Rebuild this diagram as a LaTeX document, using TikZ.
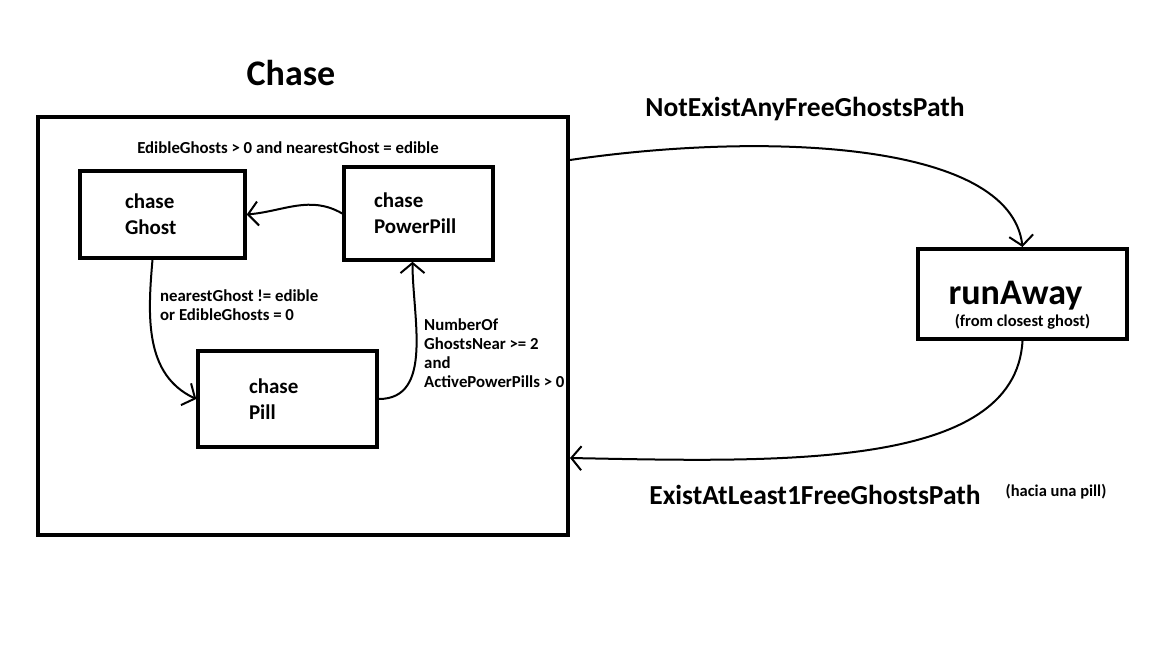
\documentclass[tikz,border=0pt]{standalone}
\usepackage{fontspec}
\setmainfont{Carlito}
\usetikzlibrary{arrows.meta, positioning}

\begin{document}
\begin{tikzpicture}[x=1pt, y=-1pt,
  state/.style={rectangle, draw, line width=3.5pt, align=left, font=\bfseries\fontsize{21}{26}\selectfont, inner ysep=0pt},
  group/.style={rectangle, draw, line width=4pt, minimum width=530pt, minimum height=418pt},
  cond/.style={align=left, font=\bfseries\fontsize{16.8}{19}\selectfont, inner sep=0pt},
  big/.style={font=\bfseries\fontsize{27.5}{30}\selectfont, inner sep=0pt},
  trans/.style={line width=2pt, ->},
  >={Straight Barb[length=10pt, width=24pt]}]
\useasboundingbox (0,0) rectangle (1169,659);
\node[group] (chase) at (303,326) {};
\node[font=\bfseries\fontsize{36}{36}\selectfont] (title) at (291,73) {Chase};
\node[state, text width=75pt, inner xsep=45pt, minimum height=87pt] (ghost) at (162.5,214.5) {chase\\Ghost};
\node[state, text width=89pt, inner xsep=30pt, minimum height=93pt] (power) at (418.5,213.5) {chase\\PowerPill};
\node[state, text width=77pt, inner xsep=51pt, minimum height=96pt] (pill) at (287.5,399) {chase\\Pill};
\node[rectangle, draw, line width=4pt, minimum width=209pt, minimum height=90pt, inner ysep=0pt, align=center, font=\bfseries] (run) at (1022.5,294)
  {\raisebox{0pt}[46pt][0pt]{\fontsize{36}{36}\selectfont runAway\hspace{14pt}}\\[9pt]{\fontsize{16.5}{19}\selectfont (from closest ghost)}};
% conditions
\node[cond] (c1) at (288,148) {EdibleGhosts > 0 and nearestGhost = edible};
\node[cond, anchor=west] (c2) at (160,305) {nearestGhost != edible\\or EdibleGhosts = 0};
\node[cond, anchor=west] (c3) at (424,353) {NumberOf\\GhostsNear >= 2\\and\\ActivePowerPills > 0};
\node[big] (c4) at (805,109) {NotExistAnyFreeGhostsPath};
\node[big] (c5) at (815,495) {ExistAtLeast1FreeGhostsPath};
\node[cond, font=\bfseries\fontsize{16.5}{18}\selectfont] (c6) at (1056,492) {(hacia una pill)};
% transitions
\draw[trans] (power.west) to[out=150, in=5] (ghost.east);
\draw[trans] ([xshift=-10pt]ghost.south) to[out=-95, in=155] (pill.west);
\draw[trans] (pill.east) to[out=0, in=-90] ([xshift=-6pt]power.south);
\draw[trans] ([yshift=-45pt]chase.north east) .. controls (760,132) and (1010,140) .. (run.north);
\draw[trans] (run.south) .. controls (1015,470) and (780,462) .. ([yshift=79pt]chase.south east);
\end{tikzpicture}
\end{document}
